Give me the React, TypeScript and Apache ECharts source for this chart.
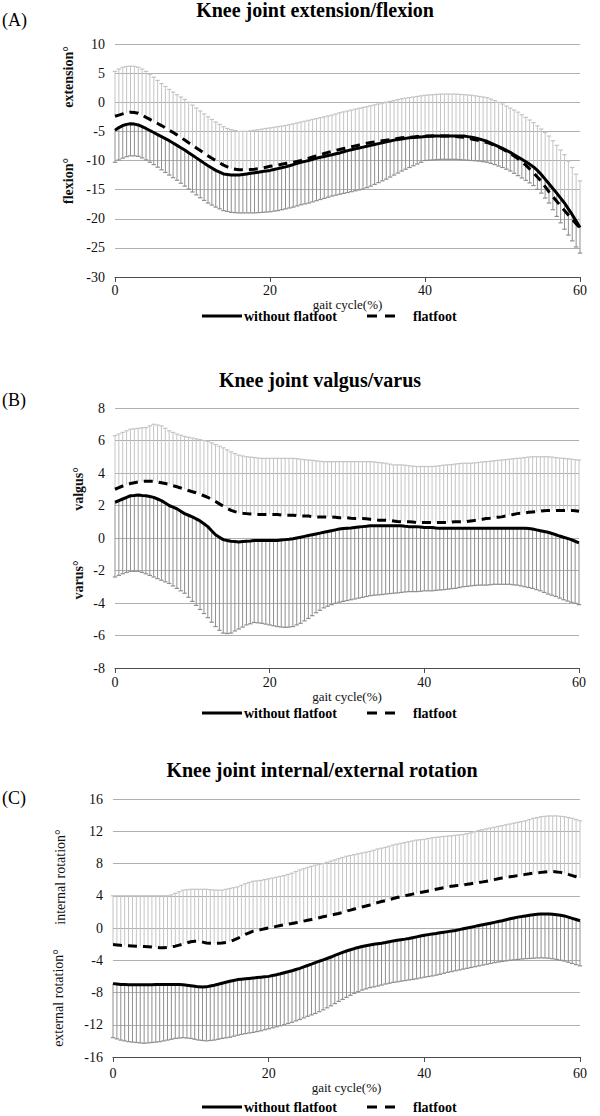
import React, { useEffect, useRef } from "react";
import * as echarts from "echarts";

// gait cycle sampling (0..60 %, every 0.5 %)
const gaitCycle: number[] = Array.from({ length: 121 }, (_, i) => i * 0.5);
const xTicks = [0, 20, 40, 60];

// ---------- (A) extension / flexion ----------
const A_flatMean = [
  -2.4,-2.2, -2.0,-1.8, -1.7,-1.75, -1.9,-2.2, -2.6,-2.95, -3.3,-3.65, -4.0,-4.4, -4.8,-5.2, -5.6,-6.05, -6.5,-6.95,
  -7.4,-7.85, -8.3,-8.75, -9.2,-9.6, -10.0,-10.4, -10.8,-11.1, -11.4,-11.5, -11.6,-11.6, -11.6,-11.55, -11.5,-11.4, -11.3,-11.15,
  -11.0,-10.9, -10.8,-10.65, -10.5,-10.4, -10.3,-10.15, -10.0,-9.8, -9.6,-9.4, -9.2,-9.0, -8.8,-8.6, -8.4,-8.25, -8.1,-7.95,
  -7.8,-7.65, -7.5,-7.35, -7.2,-7.05, -6.9,-6.8, -6.7,-6.6, -6.5,-6.4, -6.3,-6.2, -6.1,-6.05, -6.0,-5.95, -5.9,-5.85,
  -5.8,-5.8, -5.8,-5.8, -5.8,-5.8, -5.8,-5.85, -5.9,-5.95, -6.0,-6.15, -6.3,-6.45, -6.6,-6.75, -6.9,-7.15, -7.4,-7.7,
  -8.0,-8.4, -8.8,-9.25, -9.7,-10.25, -10.8,-11.45, -12.1,-12.85, -13.6,-14.5, -15.4,-16.2, -17.0,-17.8, -18.6,-19.35, -20.1,-20.85,
  -21.6,
];
const A_flatUpper = [
  5.3,5.7, 6.0,6.15, 6.2,6.15, 6.0,5.7, 5.3,4.8, 4.3,3.75, 3.2,2.7, 2.2,1.75, 1.3,0.9, 0.5,0.0,
  -0.5,-1.0, -1.5,-2.0, -2.5,-2.95, -3.4,-3.8, -4.2,-4.5, -4.7,-4.85, -5.0,-5.0, -5.0,-4.9, -4.8,-4.7, -4.6,-4.5,
  -4.4,-4.3, -4.2,-4.1, -4.0,-3.85, -3.7,-3.55, -3.4,-3.25, -3.1,-2.95, -2.8,-2.65, -2.5,-2.35, -2.2,-2.0, -1.8,-1.65,
  -1.5,-1.35, -1.2,-1.05, -0.9,-0.75, -0.6,-0.45, -0.3,-0.15, 0.0,0.15, 0.3,0.45, 0.6,0.7, 0.8,0.9, 1.0,1.1,
  1.2,1.25, 1.3,1.35, 1.4,1.4, 1.4,1.4, 1.4,1.35, 1.3,1.25, 1.2,1.1, 1.0,0.9, 0.8,0.55, 0.3,0.0,
  -0.3,-0.65, -1.0,-1.35, -1.7,-2.15, -2.6,-3.05, -3.5,-4.05, -4.6,-5.2, -5.8,-6.6, -7.4,-8.2, -9.0,-10.1, -11.2,-12.35,
  -13.5,
];
const A_withoutMean = [
  -4.8,-4.35, -4.0,-3.8, -3.7,-3.75, -3.9,-4.2, -4.5,-4.85, -5.2,-5.55, -5.9,-6.25, -6.6,-7.0, -7.4,-7.8, -8.2,-8.65,
  -9.1,-9.55, -10.0,-10.45, -10.9,-11.3, -11.7,-12.0, -12.3,-12.4, -12.5,-12.5, -12.5,-12.4, -12.3,-12.2, -12.1,-12.0, -11.9,-11.8,
  -11.7,-11.55, -11.4,-11.25, -11.1,-10.9, -10.7,-10.5, -10.3,-10.15, -10.0,-9.8, -9.6,-9.45, -9.3,-9.15, -9.0,-8.85, -8.7,-8.5,
  -8.3,-8.15, -8.0,-7.85, -7.7,-7.55, -7.4,-7.25, -7.1,-6.95, -6.8,-6.65, -6.5,-6.4, -6.3,-6.2, -6.1,-6.05, -6.0,-5.95,
  -5.9,-5.85, -5.8,-5.8, -5.8,-5.8, -5.8,-5.8, -5.8,-5.8, -5.8,-5.9, -6.0,-6.15, -6.3,-6.5, -6.7,-7.0, -7.3,-7.6,
  -7.9,-8.25, -8.6,-9.0, -9.4,-9.8, -10.2,-10.65, -11.1,-11.7, -12.4,-13.2, -14.0,-14.8, -15.6,-16.45, -17.3,-18.3, -19.3,-20.4,
  -21.5,
];
const A_withoutLower = [
  -10.3,-9.9, -9.6,-9.35, -9.2,-9.2, -9.3,-9.55, -9.9,-10.3, -10.7,-11.15, -11.6,-12.05, -12.5,-12.95, -13.4,-13.9, -14.4,-14.9,
  -15.4,-15.9, -16.4,-16.85, -17.3,-17.65, -18.0,-18.3, -18.6,-18.75, -18.9,-18.95, -19.0,-19.0, -19.0,-19.0, -19.0,-18.95, -18.9,-18.85,
  -18.8,-18.7, -18.6,-18.45, -18.3,-18.15, -18.0,-17.8, -17.6,-17.45, -17.3,-17.1, -16.9,-16.7, -16.5,-16.3, -16.1,-15.95, -15.8,-15.65,
  -15.5,-15.35, -15.2,-15.05, -14.9,-14.65, -14.4,-14.1, -13.8,-13.5, -13.2,-12.85, -12.5,-12.15, -11.8,-11.5, -11.2,-10.9, -10.6,-10.3,
  -10.0,-9.95, -9.9,-9.85, -9.8,-9.8, -9.8,-9.8, -9.8,-9.85, -9.9,-9.95, -10.0,-10.05, -10.1,-10.2, -10.3,-10.5, -10.7,-10.95,
  -11.2,-11.5, -11.8,-12.2, -12.6,-13.0, -13.4,-13.85, -14.3,-14.95, -15.6,-16.45, -17.3,-18.45, -19.6,-20.7, -21.8,-22.8, -23.8,-24.85,
  -25.9,
];

// ---------- (B) valgus / varus ----------
const B_flatMean = [
  3.0,3.1, 3.2,3.28, 3.35,3.4, 3.45,3.48, 3.5,3.5, 3.5,3.45, 3.4,3.35, 3.3,3.22, 3.15,3.08, 3.0,2.92,
  2.85,2.78, 2.7,2.6, 2.5,2.38, 2.25,2.1, 1.95,1.82, 1.7,1.62, 1.55,1.52, 1.5,1.48, 1.45,1.45, 1.45,1.45,
  1.45,1.45, 1.45,1.42, 1.4,1.4, 1.4,1.38, 1.35,1.35, 1.35,1.32, 1.3,1.3, 1.3,1.3, 1.3,1.28, 1.25,1.25,
  1.25,1.22, 1.2,1.2, 1.2,1.18, 1.15,1.12, 1.1,1.1, 1.1,1.08, 1.05,1.02, 1.0,1.0, 1.0,0.98, 0.95,0.95,
  0.95,0.95, 0.95,0.95, 0.95,0.95, 0.95,0.98, 1.0,1.0, 1.0,1.02, 1.05,1.08, 1.1,1.15, 1.2,1.22, 1.25,1.28,
  1.3,1.35, 1.4,1.45, 1.5,1.52, 1.55,1.58, 1.6,1.62, 1.65,1.68, 1.7,1.7, 1.7,1.7, 1.7,1.7, 1.7,1.68,
  1.65,
];
const B_flatUpper = [
  6.3,6.4, 6.5,6.6, 6.7,6.72, 6.75,6.78, 6.8,6.9, 7.0,6.95, 6.9,6.75, 6.6,6.5, 6.4,6.32, 6.25,6.2,
  6.15,6.1, 6.05,6.0, 5.95,5.85, 5.75,5.65, 5.55,5.42, 5.3,5.2, 5.1,5.05, 5.0,4.98, 4.95,4.92, 4.9,4.9,
  4.9,4.9, 4.9,4.9, 4.9,4.9, 4.9,4.88, 4.85,4.82, 4.8,4.78, 4.75,4.72, 4.7,4.7, 4.7,4.7, 4.7,4.7,
  4.7,4.7, 4.7,4.7, 4.7,4.7, 4.7,4.68, 4.65,4.62, 4.6,4.55, 4.5,4.5, 4.5,4.48, 4.45,4.42, 4.4,4.4,
  4.4,4.4, 4.4,4.42, 4.45,4.48, 4.5,4.52, 4.55,4.58, 4.6,4.6, 4.6,4.62, 4.65,4.68, 4.7,4.72, 4.75,4.78,
  4.8,4.82, 4.85,4.88, 4.9,4.92, 4.95,4.98, 5.0,5.0, 5.0,5.0, 5.0,4.98, 4.95,4.92, 4.9,4.88, 4.85,4.82,
  4.8,
];
const B_withoutMean = [
  2.2,2.3, 2.4,2.5, 2.6,2.62, 2.65,2.62, 2.6,2.55, 2.5,2.4, 2.3,2.15, 2.0,1.9, 1.8,1.65, 1.5,1.4,
  1.3,1.18, 1.05,0.88, 0.7,0.45, 0.2,0.05, -0.1,-0.15, -0.2,-0.22, -0.25,-0.22, -0.2,-0.18, -0.15,-0.15, -0.15,-0.15,
  -0.15,-0.15, -0.15,-0.12, -0.1,-0.08, -0.05,0.0, 0.05,0.1, 0.15,0.2, 0.25,0.3, 0.35,0.4, 0.45,0.5, 0.55,0.58,
  0.6,0.62, 0.65,0.68, 0.7,0.72, 0.75,0.75, 0.75,0.75, 0.75,0.75, 0.75,0.75, 0.75,0.72, 0.7,0.7, 0.7,0.68,
  0.65,0.65, 0.65,0.62, 0.6,0.6, 0.6,0.6, 0.6,0.6, 0.6,0.6, 0.6,0.6, 0.6,0.6, 0.6,0.6, 0.6,0.6,
  0.6,0.6, 0.6,0.6, 0.6,0.6, 0.6,0.58, 0.55,0.5, 0.45,0.4, 0.35,0.28, 0.2,0.12, 0.05,-0.02, -0.1,-0.2,
  -0.3,
];
const B_withoutLower = [
  -2.4,-2.3, -2.2,-2.12, -2.05,-2.05, -2.05,-2.12, -2.2,-2.3, -2.4,-2.5, -2.6,-2.7, -2.8,-2.95, -3.1,-3.25, -3.4,-3.65,
  -3.9,-4.15, -4.4,-4.65, -4.9,-5.18, -5.45,-5.68, -5.85,-5.88, -5.85,-5.72, -5.6,-5.48, -5.35,-5.28, -5.2,-5.22, -5.25,-5.3,
  -5.35,-5.4, -5.45,-5.48, -5.5,-5.48, -5.45,-5.35, -5.25,-5.1, -4.95,-4.78, -4.6,-4.45, -4.3,-4.2, -4.1,-4.02, -3.95,-3.9,
  -3.85,-3.8, -3.75,-3.7, -3.65,-3.6, -3.55,-3.52, -3.5,-3.48, -3.45,-3.42, -3.4,-3.38, -3.35,-3.32, -3.3,-3.3, -3.3,-3.28,
  -3.25,-3.25, -3.25,-3.22, -3.2,-3.18, -3.15,-3.12, -3.1,-3.05, -3.0,-2.98, -2.95,-2.92, -2.9,-2.9, -2.9,-2.88, -2.85,-2.85,
  -2.85,-2.85, -2.85,-2.88, -2.9,-2.95, -3.0,-3.05, -3.1,-3.18, -3.25,-3.35, -3.45,-3.52, -3.6,-3.7, -3.8,-3.88, -3.95,-4.02,
  -4.1,
];

// ---------- (C) internal / external rotation ----------
const C_flatMean = [
  -2.05,-2.1, -2.15,-2.18, -2.2,-2.22, -2.25,-2.28, -2.3,-2.32, -2.35,-2.4, -2.45,-2.45, -2.4,-2.32, -2.25,-2.12, -2.0,-1.85,
  -1.7,-1.65, -1.65,-1.75, -1.85,-1.88, -1.9,-1.88, -1.85,-1.8, -1.7,-1.5, -1.3,-1.05, -0.8,-0.6, -0.4,-0.3, -0.2,-0.1,
  0.0,0.1, 0.2,0.3, 0.4,0.48, 0.55,0.65, 0.75,0.85, 0.95,1.05, 1.15,1.28, 1.4,1.5, 1.6,1.7, 1.8,1.95,
  2.1,2.22, 2.35,2.48, 2.6,2.72, 2.85,3.0, 3.15,3.28, 3.4,3.52, 3.65,3.78, 3.9,4.0, 4.1,4.2, 4.3,4.4,
  4.5,4.6, 4.7,4.8, 4.9,5.0, 5.1,5.18, 5.25,5.3, 5.35,5.42, 5.5,5.58, 5.65,5.72, 5.8,5.9, 6.0,6.1,
  6.2,6.28, 6.35,6.42, 6.5,6.58, 6.65,6.72, 6.8,6.85, 6.9,6.95, 7.0,7.0, 6.95,6.9, 6.8,6.65, 6.5,6.35,
  6.2,
];
const C_flatUpper = [
  4.0,4.0, 4.0,4.0, 4.0,4.0, 4.0,4.0, 4.0,4.0, 4.0,4.0, 4.0,4.0, 4.0,4.1, 4.3,4.5, 4.7,4.75,
  4.8,4.8, 4.8,4.8, 4.8,4.75, 4.7,4.7, 4.7,4.8, 4.9,5.0, 5.1,5.3, 5.5,5.65, 5.8,5.85, 5.9,6.0,
  6.1,6.2, 6.3,6.4, 6.5,6.65, 6.8,7.0, 7.2,7.35, 7.5,7.65, 7.8,7.9, 8.0,8.15, 8.3,8.45, 8.6,8.75,
  8.9,9.0, 9.1,9.2, 9.3,9.4, 9.5,9.65, 9.8,9.9, 10.0,10.15, 10.3,10.4, 10.5,10.6, 10.7,10.8, 10.9,10.95,
  11.0,11.1, 11.2,11.25, 11.3,11.35, 11.4,11.45, 11.5,11.55, 11.6,11.7, 11.8,11.95, 12.1,12.2, 12.3,12.4, 12.5,12.6,
  12.7,12.8, 12.9,13.0, 13.1,13.2, 13.3,13.45, 13.6,13.7, 13.8,13.85, 13.9,13.9, 13.9,13.85, 13.8,13.7, 13.6,13.45,
  13.3,
];
const C_withoutMean = [
  -6.9,-6.95, -7.0,-7.02, -7.05,-7.05, -7.05,-7.05, -7.05,-7.05, -7.05,-7.02, -7.0,-7.0, -7.0,-7.0, -7.0,-7.02, -7.05,-7.1,
  -7.15,-7.22, -7.3,-7.32, -7.3,-7.2, -7.1,-6.98, -6.85,-6.72, -6.6,-6.5, -6.4,-6.35, -6.3,-6.25, -6.2,-6.15, -6.1,-6.05,
  -6.0,-5.9, -5.8,-5.68, -5.55,-5.42, -5.3,-5.15, -5.0,-4.82, -4.65,-4.48, -4.3,-4.12, -3.95,-3.78, -3.6,-3.4, -3.2,-3.02,
  -2.85,-2.7, -2.55,-2.42, -2.3,-2.2, -2.1,-2.02, -1.95,-1.88, -1.8,-1.7, -1.6,-1.52, -1.45,-1.38, -1.3,-1.2, -1.1,-1.0,
  -0.9,-0.82, -0.75,-0.68, -0.6,-0.52, -0.45,-0.38, -0.3,-0.2, -0.1,0.0, 0.1,0.2, 0.3,0.4, 0.5,0.6, 0.7,0.8,
  0.9,1.02, 1.15,1.25, 1.35,1.42, 1.5,1.58, 1.65,1.7, 1.75,1.75, 1.75,1.7, 1.65,1.58, 1.5,1.35, 1.2,1.05,
  0.9,
];
const C_withoutLower = [
  -13.6,-13.75, -13.9,-14.0, -14.1,-14.15, -14.2,-14.25, -14.3,-14.25, -14.2,-14.15, -14.1,-14.0, -13.9,-13.8, -13.7,-13.65, -13.6,-13.65,
  -13.7,-13.8, -13.9,-13.95, -14.0,-13.95, -13.9,-13.8, -13.7,-13.62, -13.55,-13.42, -13.3,-13.2, -13.1,-13.02, -12.95,-12.85, -12.75,-12.62,
  -12.5,-12.38, -12.25,-12.12, -12.0,-11.85, -11.7,-11.52, -11.35,-11.15, -10.95,-10.78, -10.6,-10.38, -10.15,-9.9, -9.65,-9.38, -9.1,-8.85,
  -8.6,-8.35, -8.1,-7.9, -7.7,-7.55, -7.4,-7.3, -7.2,-7.08, -6.95,-6.85, -6.75,-6.68, -6.6,-6.52, -6.45,-6.38, -6.3,-6.2,
  -6.1,-6.02, -5.95,-5.85, -5.75,-5.62, -5.5,-5.4, -5.3,-5.2, -5.1,-5.0, -4.9,-4.8, -4.7,-4.6, -4.5,-4.4, -4.3,-4.22,
  -4.15,-4.08, -4.0,-3.95, -3.9,-3.85, -3.8,-3.78, -3.75,-3.72, -3.7,-3.72, -3.75,-3.82, -3.9,-4.0, -4.1,-4.25, -4.4,-4.55,
  -4.7,
];

const SERIF = "'Liberation Serif', 'Times New Roman', serif";

type Panel = {
  letter: string;
  title: string;
  titleX: number;
  titleY: number;
  letterY: number;
  grid: { left: number; top: number; width: number; height: number };
  yMin: number;
  yMax: number;
  yStep: number;
  flatMean: number[];
  flatUpper: number[];
  withoutMean: number[];
  withoutLower: number[];
  upName: string;
  upY: number;
  upX: number;
  downName: string;
  downY: number;
  downX: number;
  nameBold: boolean;
  labelMargin: number;
  nameGap: number;
  legendY: number;
};

const panels: Panel[] = [
  {
    letter: "(A)", title: "Knee joint extension/flexion", titleX: 315, titleY: 10, letterY: 20,
    grid: { left: 115, top: 44, width: 465, height: 233 },
    yMin: -30, yMax: 10, yStep: 5,
    flatMean: A_flatMean, flatUpper: A_flatUpper, withoutMean: A_withoutMean, withoutLower: A_withoutLower,
    upName: "extension\u00b0", upY: 77, upX: 68, downName: "flexion\u00b0", downY: 181, downX: 68, nameBold: true,
    labelMargin: 6, nameGap: 9, legendY: 316,
  },
  {
    letter: "(B)", title: "Knee joint valgus/varus", titleX: 320, titleY: 380, letterY: 400,
    grid: { left: 115, top: 408, width: 464, height: 260 },
    yMin: -8, yMax: 8, yStep: 2,
    flatMean: B_flatMean, flatUpper: B_flatUpper, withoutMean: B_withoutMean, withoutLower: B_withoutLower,
    upName: "valgus\u00b0", upY: 489, upX: 78, downName: "varus\u00b0", downY: 580, downX: 78, nameBold: true,
    labelMargin: 7, nameGap: 19, legendY: 713,
  },
  {
    letter: "(C)", title: "Knee joint internal/external rotation", titleX: 322, titleY: 770, letterY: 798,
    grid: { left: 113, top: 799, width: 467, height: 258 },
    yMin: -16, yMax: 16, yStep: 4,
    flatMean: C_flatMean, flatUpper: C_flatUpper, withoutMean: C_withoutMean, withoutLower: C_withoutLower,
    upName: "internal rotation\u00b0", upY: 877, upX: 60, downName: "external rotation\u00b0", downY: 998, downX: 58, nameBold: false,
    labelMargin: 9, nameGap: 24, legendY: 1107,
  },
];

function errorBarSeries(idx: number, mean: number[], end: number[], color: string) {
  const data = gaitCycle.map((x, i) => [x, mean[i], end[i]]).filter((d) => d[1] !== undefined && d[2] !== undefined);
  return {
    type: "custom",
    xAxisIndex: idx,
    yAxisIndex: idx,
    data,
    encode: { x: 0, y: [1, 2] },
    z: 2,
    silent: true,
    renderItem: (_params: any, api: any) => {
      const x = api.value(0);
      const p1 = api.coord([x, api.value(1)]);
      const p2 = api.coord([x, api.value(2)]);
      return {
        type: "group",
        children: [
          { type: "line", shape: { x1: p1[0], y1: p1[1], x2: p2[0], y2: p2[1] }, style: { stroke: color, lineWidth: 1 } },
          { type: "line", shape: { x1: p2[0] - 2.2, y1: p2[1], x2: p2[0] + 2.2, y2: p2[1] }, style: { stroke: color, lineWidth: 1.2 } },
        ],
      };
    },
  };
}

export default function App() {
  const ref = useRef<HTMLDivElement>(null);
  useEffect(() => {
    document.body.style.margin = "0";
    if (!ref.current) return;
    const chart = echarts.init(ref.current, undefined, { renderer: "svg" });

    const grids: any[] = [];
    const xAxes: any[] = [];
    const yAxes: any[] = [];
    const series: any[] = [];
    const graphics: any[] = [];

    panels.forEach((p, i) => {
      grids.push({ ...p.grid, containLabel: false });
      xAxes.push({
        type: "value", gridIndex: i, min: 0, max: 60, interval: 20,
        axisLine: { show: true, onZero: false, lineStyle: { color: "#4d4d4d", width: 1.2 } },
        axisTick: { show: true, length: 5, lineStyle: { color: "#4d4d4d" } },
        splitLine: { show: false },
        axisLabel: { fontFamily: SERIF, fontSize: 14, color: "#111", margin: p.labelMargin,
          formatter: (v: number) => (xTicks.includes(v) ? String(v) : "") },
        name: "gait cycle(%)", nameLocation: "middle", nameGap: p.nameGap,
        nameTextStyle: { fontFamily: SERIF, fontSize: 13, color: "#111" },
      });
      yAxes.push({
        type: "value", gridIndex: i, min: p.yMin, max: p.yMax, interval: p.yStep,
        axisLine: { show: false }, axisTick: { show: false },
        splitLine: { show: true, lineStyle: { color: "#b0b0b0", width: 1 } },
        axisLabel: { fontFamily: SERIF, fontSize: 14, color: "#111", margin: 10 },
      });
      series.push(errorBarSeries(i, p.flatMean, p.flatUpper, "#c4c4c4"));
      series.push(errorBarSeries(i, p.withoutMean, p.withoutLower, "#8f8f8f"));
      series.push({
        type: "line", name: "without flatfoot", xAxisIndex: i, yAxisIndex: i, z: 5,
        data: gaitCycle.map((x, k) => [x, p.withoutMean[k]]),
        showSymbol: false, symbol: "none",
        lineStyle: { color: "#000", width: 3, type: "solid" },
      });
      series.push({
        type: "line", name: "flatfoot", xAxisIndex: i, yAxisIndex: i, z: 6,
        data: gaitCycle.map((x, k) => [x, p.flatMean[k]]),
        showSymbol: false, symbol: "none",
        lineStyle: { color: "#000", width: 3, type: [9, 6] },
      });

      graphics.push({
        type: "text", x: p.titleX, y: p.titleY,
        style: { text: p.title, font: `bold 20px ${SERIF}`, fill: "#000", align: "center", verticalAlign: "middle" },
      });
      graphics.push({
        type: "text", x: 2, y: p.letterY,
        style: { text: p.letter, font: `18px ${SERIF}`, fill: "#000", align: "left", verticalAlign: "middle" },
      });
      graphics.push({
        type: "text", x: p.upX, y: p.upY, rotation: Math.PI / 2,
        style: { text: p.upName, font: `${p.nameBold ? "bold " : ""}14px ${SERIF}`, fill: "#111", align: "center", verticalAlign: "middle" },
      });
      graphics.push({
        type: "text", x: p.downX, y: p.downY, rotation: Math.PI / 2,
        style: { text: p.downName, font: `${p.nameBold ? "bold " : ""}14px ${SERIF}`, fill: "#111", align: "center", verticalAlign: "middle" },
      });
      // legend
      graphics.push({
        type: "line", shape: { x1: 202, y1: p.legendY, x2: 242, y2: p.legendY },
        style: { stroke: "#000", lineWidth: 3 },
      });
      graphics.push({
        type: "text", x: 244, y: p.legendY,
        style: { text: "without flatfoot", font: `bold 14px ${SERIF}`, fill: "#000", align: "left", verticalAlign: "middle" },
      });
      graphics.push({
        type: "line", shape: { x1: 367, y1: p.legendY, x2: 403, y2: p.legendY },
        style: { stroke: "#000", lineWidth: 3, lineDash: [10, 8] },
      });
      graphics.push({
        type: "text", x: 413, y: p.legendY,
        style: { text: "flatfoot", font: `bold 14px ${SERIF}`, fill: "#000", align: "left", verticalAlign: "middle" },
      });
    });

    chart.setOption({
      animation: false,
      backgroundColor: "#fff",
      grid: grids,
      xAxis: xAxes,
      yAxis: yAxes,
      series,
      graphic: graphics,
    });
    return () => chart.dispose();
  }, []);
  return <div ref={ref} style={{ width: 600, height: 1116 }} />;
}
